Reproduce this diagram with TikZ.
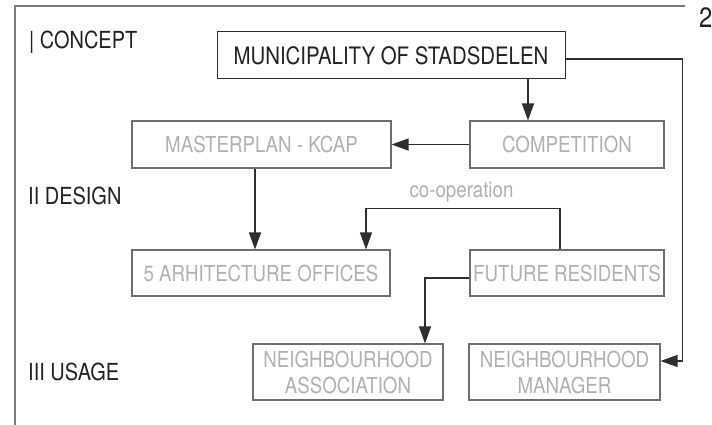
\documentclass[tikz,border=0pt]{standalone}
\usepackage{fontspec}
\setmainfont{TeX Gyre Heros}[FakeStretch=0.85]
\usetikzlibrary{arrows.meta}
\definecolor{txtgray}{HTML}{B0B0B0}
\definecolor{boxgray}{HTML}{6E6E6E}
\definecolor{linedark}{HTML}{2E2E2E}
\definecolor{framegray}{HTML}{7A7A7A}
\definecolor{txtdark}{HTML}{222222}
\begin{document}
\begin{tikzpicture}[x=1pt,y=-1pt,
  arr/.style={draw=linedark, line width=1.2pt, -{Triangle[length=17pt,width=12pt]}},
  frameline/.style={draw=framegray, line width=1.2pt},
  graybox/.style={draw=boxgray, line width=1.1pt, inner sep=0pt, text=txtgray,
    font=\fontsize{22}{26}\selectfont},
  grayboxtwo/.style={graybox, align=center},
  blackbox/.style={draw=linedark, line width=1pt, inner sep=0pt, text=txtdark,
    font=\fontsize{24}{28}\selectfont},
  lbl/.style={anchor=base west, inner sep=0pt, text=txtdark,
    font=\fontsize{23.5}{28}\selectfont},
  bignum/.style={anchor=base west, inner sep=0pt, text=txtdark,
    font=\fontsize{28}{32}\selectfont},
  notelbl/.style={anchor=base, inner sep=0pt, text=txtgray,
    font=\fontsize{22}{26}\selectfont}]
\useasboundingbox (0,0) rectangle (712,425);
% frame
\coordinate (ftr) at (685,6);
\coordinate (ftl) at (15,6);
\coordinate (fbl) at (15,425);
\draw[frameline] (ftr) -- (ftl) -- (fbl);
\node[bignum] (pagenum) at (699,28) {2};
% section labels
\node[lbl] (concept) at (29,49) {| CONCEPT};
\node[lbl] (design) at (28,204) {II DESIGN};
\node[lbl] (usage) at (28,380) {III USAGE};
% boxes
\node[blackbox, minimum width=348pt, minimum height=47pt] (muni) at (391,55.5) {MUNICIPALITY OF STADSDELEN};
\node[graybox, minimum width=194pt, minimum height=47pt] (comp) at (567,144.5) {COMPETITION};
\node[graybox, minimum width=259pt, minimum height=47pt] (master) at (261.5,144.5) {MASTERPLAN - KCAP};
\node[graybox, minimum width=258pt, minimum height=46pt] (arh) at (261,273) {5 ARHITECTURE OFFICES};
\node[graybox, minimum width=194pt, minimum height=46pt] (future) at (567,273) {FUTURE RESIDENTS};
\node[grayboxtwo, minimum width=190pt, minimum height=56pt] (assoc) at (348,372) {NEIGHBOURHOOD\\ASSOCIATION};
\node[grayboxtwo, minimum width=191pt, minimum height=56pt] (manager) at (564.5,372) {NEIGHBOURHOOD\\MANAGER};
\node[notelbl] (coop) at (461.5,197) {co-operation};
% connectors
\draw[arr] ([xshift=137pt]muni.south) -- ([xshift=137pt]muni.south |- comp.north);
\draw[arr] ([yshift=-3.5pt]muni.east) -- ++(117,0) |- ([yshift=11pt]manager.east);
\draw[arr] (comp.west) -- (master.east);
\draw[arr] ([xshift=-6.5pt]master.south) -- ([xshift=-6.5pt]master.south |- arh.north);
\draw[arr] ([xshift=-7pt]future.north) -- ++(0,-41) -| ([xshift=105pt]arh.north);
\draw[arr] ([yshift=-5pt]future.west) -| ([xshift=77pt]assoc.north);
\end{tikzpicture}
\end{document}
